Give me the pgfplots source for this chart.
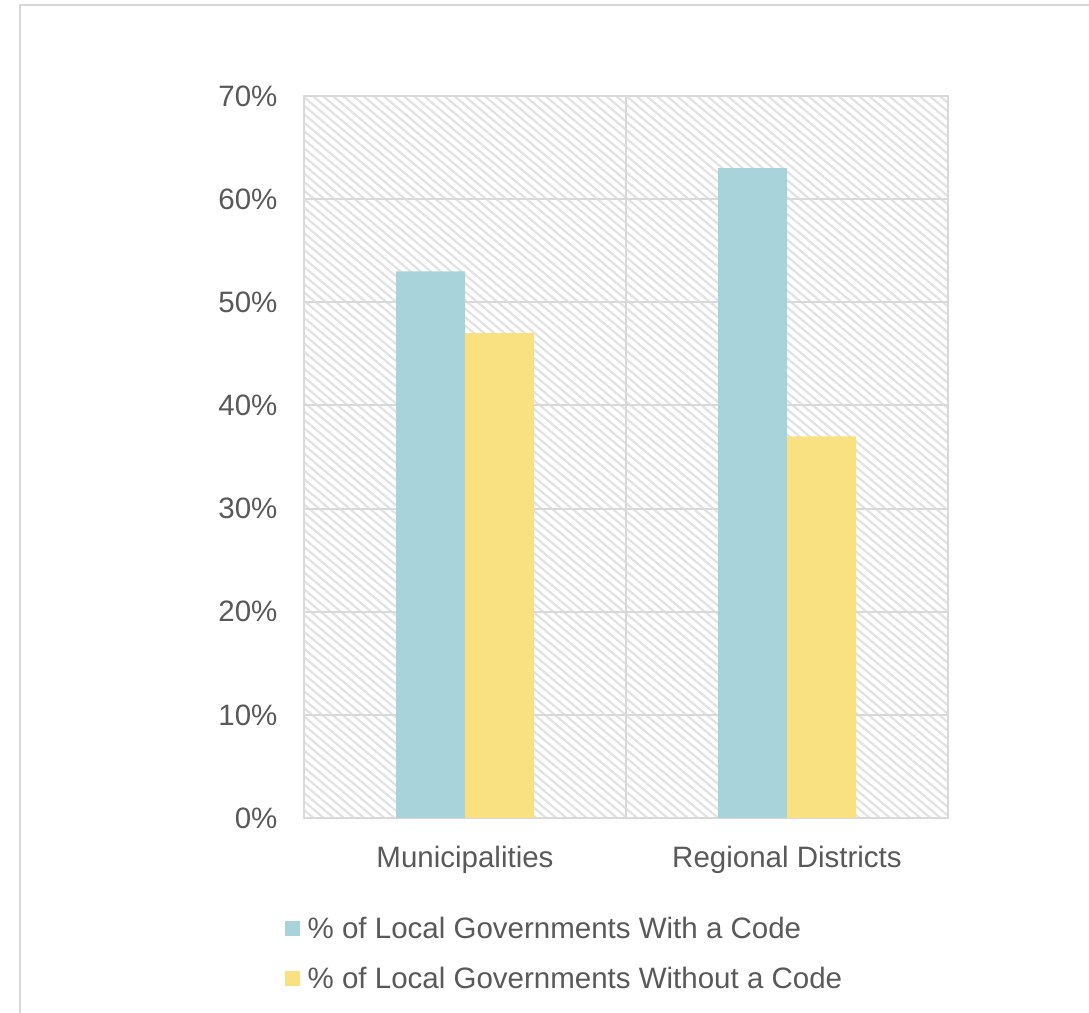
\documentclass[border=0pt]{standalone}
\usepackage{fontspec}
\setmainfont{Liberation Sans}
\usepackage{pgfplots}
\pgfplotsset{compat=1.18}
\usetikzlibrary{patterns.meta}
\definecolor{teal}{HTML}{A9D3DA}
\definecolor{yel}{HTML}{F9E080}
\definecolor{gridc}{HTML}{D9D9D9}
\definecolor{hatch}{HTML}{E2E2E2}
\definecolor{txt}{HTML}{595959}
\begin{document}
\begin{tikzpicture}
\useasboundingbox (0,0) rectangle (1089bp,1013bp);
\draw[gridc, line width=2bp] (20bp,0) -- (20bp,1008bp) -- (1089bp,1008bp);
\begin{axis}[
  at={(304bp,195bp)}, anchor=south west,
  scale only axis, width=644bp, height=722bp,
  xmin=0, xmax=2, ymin=0, ymax=70,
  ybar=0pt, bar width=69bp,
  xtick={0.5,1.5},
  xticklabels={Municipalities, Regional Districts},
  minor xtick={1},
  xminorgrids=true,
  ytick={0,10,...,70},
  yticklabels={0\%,10\%,20\%,30\%,40\%,50\%,60\%,70\%},
  ymajorgrids=true,
  major tick length=0pt, minor tick length=0pt,
  grid style={gridc, line width=2bp},
  minor grid style={gridc, line width=2bp},
  axis line style={gridc, line width=2bp},
  every tick label/.append style={font=\fontsize{29.5bp}{35bp}\selectfont, text=txt},
  yticklabel style={xshift=-23bp},
  xticklabel style={yshift=-25bp},
  axis background/.style={fill=white, postaction={pattern={Lines[angle=-40,distance=6.5bp,line width=2.2bp]}, pattern color=hatch}},
  legend style={draw=none, fill=none, at={(-0.035,-0.133)}, anchor=north west,
    font=\fontsize{29.5bp}{35bp}\selectfont, text=txt, row sep=25bp,
    /tikz/every node/.append style={inner sep=1bp}},
  legend cell align=left,
  legend image code/.code={\fill[#1] (0bp,-7.5bp) rectangle (15bp,7.5bp); \path (22bp,0bp);},
]
\addplot[draw=none, fill=teal] coordinates {(0.5,53) (1.5,63)};
\addplot[draw=none, fill=yel] coordinates {(0.5,47) (1.5,37)};
\legend{\% of Local Governments With a Code, \% of Local Governments Without a Code}
\end{axis}
\end{tikzpicture}
\end{document}
